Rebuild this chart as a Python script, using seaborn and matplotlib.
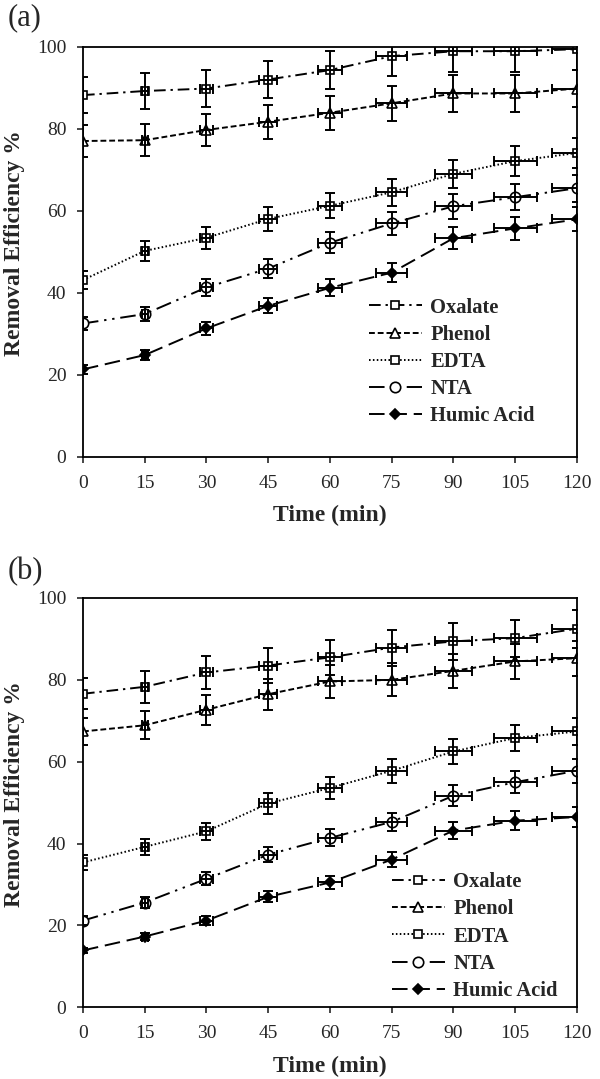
import matplotlib
matplotlib.use("Agg")
import matplotlib.pyplot as plt
import seaborn as sns

# time points (min)
time_min = [0, 15, 30, 45, 60, 75, 90, 105, 120]
series_names = ["Oxalate", "Phenol", "EDTA", "NTA", "Humic Acid"]

# panel (a) removal efficiency %
a_oxalate = [88.2, 89.2, 89.8, 92.0, 94.3, 97.7, 98.9, 98.9, 99.4]
a_phenol = [77.0, 77.2, 79.7, 81.7, 83.9, 86.2, 88.6, 88.6, 89.8]
a_edta = [43.1, 50.2, 53.4, 58.0, 61.2, 64.5, 69.0, 72.1, 74.1]
a_nta = [32.5, 34.8, 41.3, 45.9, 52.2, 56.9, 61.1, 63.3, 65.5]
a_humic = [21.3, 24.8, 31.3, 36.8, 41.2, 44.9, 53.3, 55.7, 57.9]

# panel (b) removal efficiency %
b_oxalate = [76.6, 78.3, 81.8, 83.5, 85.5, 87.9, 89.4, 90.2, 92.5]
b_phenol = [67.4, 68.9, 72.7, 76.5, 79.6, 80.0, 82.2, 84.5, 85.3]
b_edta = [35.4, 39.2, 43.0, 49.8, 53.6, 57.8, 62.5, 65.8, 67.4]
b_nta = [21.2, 25.6, 31.4, 37.3, 41.4, 45.3, 51.7, 55.0, 57.8]
b_humic = [13.9, 17.3, 21.2, 27.0, 30.5, 36.1, 43.2, 45.6, 46.5]

# error bars are 5 % of the value on both axes
REL_ERR = 0.05

styles = {
    "Oxalate": dict(marker="s", ms=6, mfc="white", ls=(0, (6, 2.5, 1.2, 2.5))),
    "Phenol": dict(marker="^", ms=7.5, mfc="white", ls=(0, (3, 1.5))),
    "EDTA": dict(marker="s", ms=6, mfc="white", ls=(0, (0.8, 1.2))),
    "NTA": dict(marker="o", ms=7.5, mfc="white", ls=(0, (8, 3, 1.2, 3, 1.2, 3))),
    "Humic Acid": dict(marker="D", ms=5.5, mfc="black", ls=(0, (8, 3.5))),
}

sns.set_style("ticks")
plt.rcParams["font.family"] = ["Liberation Serif", "DejaVu Serif"]


def draw_panel(ax, values, legend_anchor):
    for name, y in zip(series_names, values):
        st = styles[name]
        sns.lineplot(x=time_min, y=y, ax=ax, color="black", linewidth=1.4,
                     linestyle=st["ls"], marker=st["marker"], markersize=st["ms"],
                     markerfacecolor=st["mfc"], markeredgecolor="black",
                     markeredgewidth=1.2, label=name, legend=False)
        ax.errorbar(time_min, y, yerr=[v * REL_ERR for v in y],
                    xerr=[t * REL_ERR for t in time_min], fmt="none",
                    ecolor="black", elinewidth=1.4, capsize=3.5, capthick=1.4,
                    zorder=3)

    ax.set_xlim(0, 120)
    ax.set_ylim(0, 100)
    ax.set_xticks(time_min)
    ax.set_yticks(range(0, 101, 20))
    ax.tick_params(direction="out", length=4, width=1.2, labelsize=14)
    ax.tick_params(axis="x", pad=9)
    ax.tick_params(axis="y", pad=8)
    for sp in ax.spines.values():
        sp.set_visible(True)
        sp.set_linewidth(1.3)
        sp.set_color("black")
    ax.set_xlabel("Time (min)", fontsize=17, fontweight="bold")
    ax.set_ylabel("Removal Efficiency %", fontsize=17, fontweight="bold")
    ax.xaxis.set_label_coords(0.5, -0.118)
    ax.yaxis.set_label_coords(-0.118, 0.52)

    handles = [ln for ln in ax.get_lines() if ln.get_label() in series_names]
    ax.legend(handles=handles, labels=series_names, loc="upper left",
              bbox_to_anchor=legend_anchor, frameon=False, numpoints=1,
              handlelength=2.6, handletextpad=0.4, labelspacing=0.35,
              borderpad=0, borderaxespad=0,
              prop={"family": "Liberation Serif", "weight": "bold", "size": 14.8})


fig = plt.figure(figsize=(6.0, 10.79), dpi=100)
ax_a = fig.add_axes([0.1383, 0.5767, 0.8233, 0.380])
ax_b = fig.add_axes([0.1383, 0.0664, 0.8233, 0.3794])

draw_panel(ax_a, [a_oxalate, a_phenol, a_edta, a_nta, a_humic], (0.578, 0.388))
draw_panel(ax_b, [b_oxalate, b_phenol, b_edta, b_nta, b_humic], (0.625, 0.33))

fig.text(0.012, 1 - 18 / 1079, "(a)", fontsize=22, va="center", ha="left")
fig.text(0.012, 1 - 572 / 1079, "(b)", fontsize=22, va="center", ha="left")

fig.savefig("out.png", dpi=100)
plt.close(fig)
